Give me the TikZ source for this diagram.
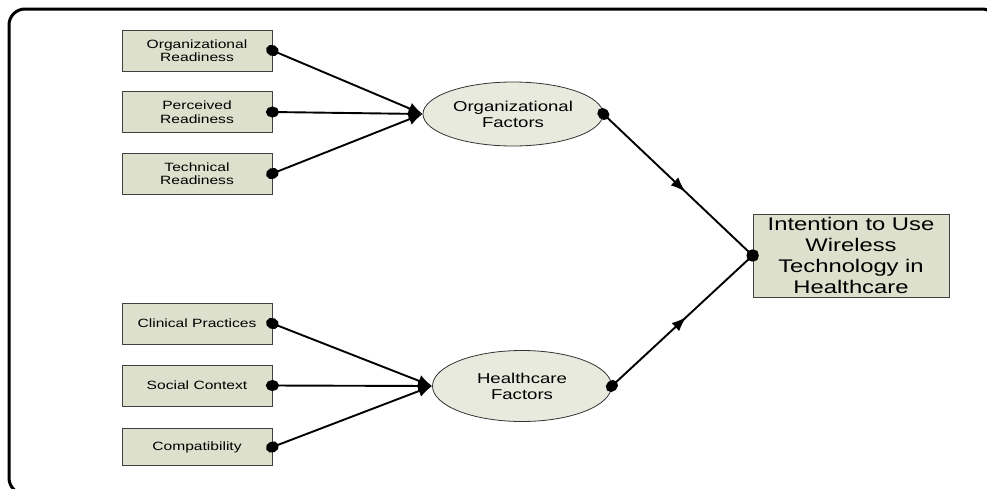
\documentclass[tikz,border=0pt]{standalone}
\usepackage{fontspec}
\setmainfont{Liberation Sans}
\newfontfamily\widesans[FakeStretch=1.3]{Liberation Sans}
\usetikzlibrary{arrows.meta,decorations.markings,shapes.geometric}

\definecolor{boxfill}{RGB}{221,224,204}
\definecolor{ovalfill}{RGB}{233,234,222}

\tikzset{
  factor/.style={draw=black!75, fill=boxfill, line width=0.8pt,
    minimum width=150pt, minimum height=41pt, inner sep=0pt, align=center,
    font=\widesans\fontsize{12}{13.5}\selectfont},
  latent/.style={ellipse, draw=black!80, fill=ovalfill, line width=0.8pt,
    minimum width=180pt, minimum height=64pt, inner sep=0pt, align=center,
    font=\widesans\fontsize{14.3}{16}\selectfont},
  outcome/.style={draw=black!75, fill=boxfill, line width=0.8pt,
    minimum width=196pt, minimum height=83pt, inner sep=0pt, align=center,
    font=\widesans\fontsize{18.3}{20.7}\selectfont},
  feed/.style={line width=1.9pt,
    {Circle[length=13pt,width=11pt]}-{Latex[length=14pt,width=12pt]},
    shorten <=-6.5pt},
  effect/.style={line width=1.9pt,
    {Circle[length=13pt,width=11pt]}-{Circle[length=13pt,width=11pt]},
    shorten <=-6.5pt, shorten >=-6.5pt,
    decoration={markings, mark=at position #1 with {\arrow{Latex[length=15pt,width=11pt]}}},
    postaction={decorate}},
  frame/.style={line width=3pt, rounded corners=16pt}
}

\begin{document}
\begin{tikzpicture}[x=1pt, y=-1pt]
  \useasboundingbox (0,0) rectangle (987,488);
  \clip (0,0) rectangle (987,488);

  % outer rounded frame
  \draw[frame] (9,9) rectangle (998,494);

  % observed indicators
  \node[factor] (orgready)  at (197,50.5)  {Organizational\\Readiness};
  \node[factor] (perready)  at (197,112)   {Perceived\\Readiness};
  \node[factor] (techready) at (197,173.5) {Technical\\Readiness};
  \node[factor] (clinical)  at (197,323.5) {Clinical Practices};
  \node[factor] (social)    at (197,385.5) {Social Context};
  \node[factor, minimum height=37pt] (compat) at (197,447) {Compatibility};

  % latent constructs
  \node[latent] (orgfac) at (513,114) {Organizational\\Factors};
  \node[latent, minimum width=179pt, minimum height=71pt] (hcfac) at (522,386) {Healthcare\\Factors};

  % outcome
  \node[outcome] (intent) at (851,255.5) {Intention to Use\\Wireless\\Technology in\\Healthcare};

  % indicator paths
  \draw[feed] (orgready.east)  -- (orgfac.west);
  \draw[feed] (perready.east)  -- (orgfac.west);
  \draw[feed] (techready.east) -- (orgfac.west);
  \draw[feed] (clinical.east)  -- (hcfac.west);
  \draw[feed] (social.east)    -- (hcfac.west);
  \draw[feed] (compat.east)    -- (hcfac.west);

  % structural paths
  \draw[effect=0.55] (orgfac.east) -- (intent.west);
  \draw[effect=0.53] (hcfac.east)  -- (intent.west);
\end{tikzpicture}
\end{document}
